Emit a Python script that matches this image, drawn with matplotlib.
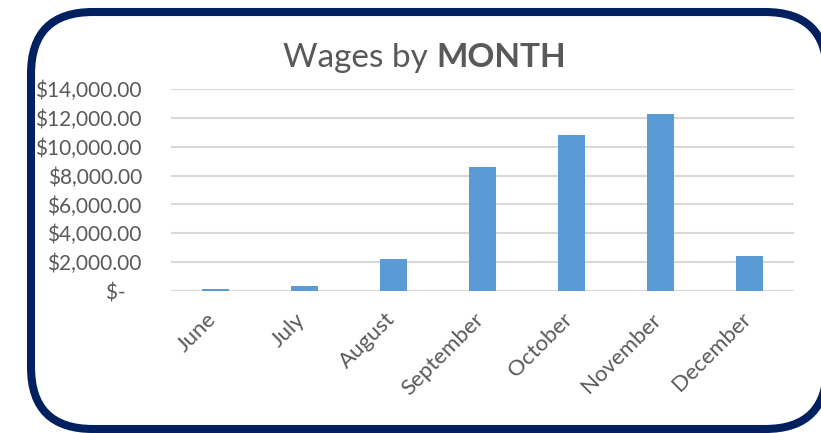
import matplotlib
matplotlib.use("Agg")
import matplotlib.pyplot as plt
import matplotlib.transforms as mtransforms
from matplotlib.patches import FancyBboxPatch
from matplotlib.ticker import FuncFormatter, MultipleLocator

months = ["June", "July", "August", "September", "October", "November", "December"]
wages = [110, 370, 2190, 8580, 10820, 12250, 2420]
title_normal = "Wages by "
title_bold = "MONTH"

W, H = 821, 433
fig = plt.figure(figsize=(W / 100, H / 100), dpi=100)
plt.rcParams['font.family'] = ['Lato', 'DejaVu Sans']

# border
bg = fig.add_axes([0, 0, 1, 1])
bg.set_xlim(0, W)
bg.set_ylim(H, 0)
bg.axis("off")
R = 62
L, T, Rt, B = 31, 12, 827, 429
box = FancyBboxPatch((L + R, T + R), Rt - L - 2 * R, B - T - 2 * R,
                     boxstyle="round,pad=%d" % R, linewidth=5.8, edgecolor="#002060",
                     facecolor="white", clip_on=False)
bg.add_patch(box)

ax = fig.add_axes([171 / W, (H - 291) / H, (794 - 171) / W, (291 - 89) / H])
ax.set_facecolor("none")
x = range(len(months))
ax.bar(x, wages, width=0.31, color="#5B9BD5", zorder=3)
ax.set_xlim(-0.5, len(months) - 0.5)
ax.set_ylim(0, 14000)
ax.yaxis.set_major_locator(MultipleLocator(2000))

def fmt(v, pos):
    if v == 0:
        return "$-   "
    return "${:,.2f}".format(v)

ax.yaxis.set_major_formatter(FuncFormatter(fmt))
ax.grid(axis="y", color="#d9d9d9", linewidth=1.5, zorder=0)
for s in ax.spines.values():
    s.set_visible(False)
ax.tick_params(axis="both", length=0, labelcolor="#595959")
ax.tick_params(axis="y", pad=21, labelsize=15)
ax.tick_params(axis="x", pad=13, labelsize=16)
ax.set_xticks(list(x))
ax.set_xticklabels(months, rotation=45, ha="right", va="top")
offset = mtransforms.ScaledTranslation(5 / 100, 0, fig.dpi_scale_trans)
for lab in ax.get_xticklabels():
    lab.set_transform(lab.get_transform() + offset)

# title
t1 = fig.text(0, 0, title_normal, fontsize=24, color="#595959", va="baseline")
t2 = fig.text(0, 0, title_bold, fontsize=24, color="#595959", weight="bold", va="baseline")
fig.canvas.draw()
r = fig.canvas.get_renderer()
w1 = t1.get_window_extent(r).width
w2 = t2.get_window_extent(r).width
cx = 424
x0 = cx - (w1 + w2) / 2
base_y = H - 67
t1.set_position((x0 / W, base_y / H))
t2.set_position(((x0 + w1) / W, base_y / H))

fig.savefig("out.png", dpi=100)
